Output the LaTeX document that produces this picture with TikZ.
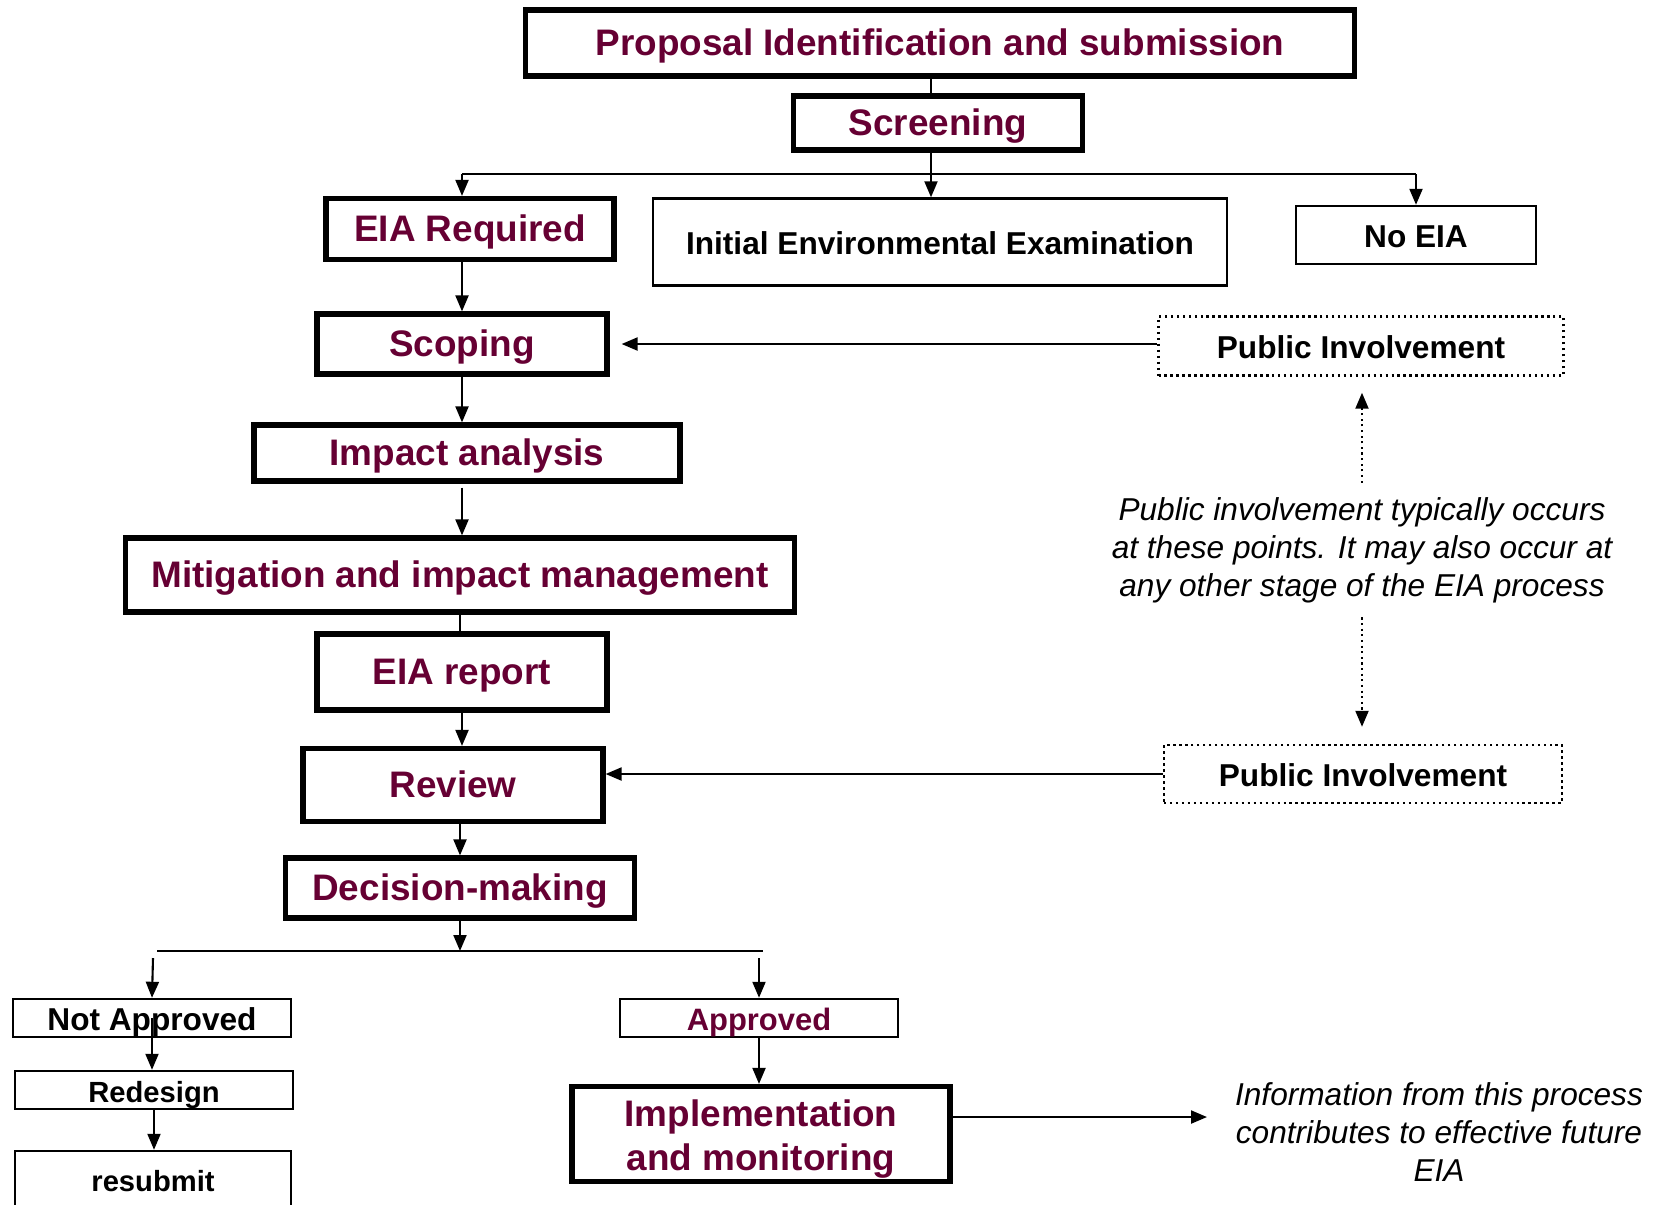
\documentclass[tikz,border=0pt]{standalone}
\usepackage{fontspec}
\setmainfont{Liberation Sans}
\usepackage{xcolor}
\usetikzlibrary{arrows.meta,positioning,calc}
\definecolor{eiared}{RGB}{102,0,51}

\begin{document}
\begin{tikzpicture}[x=0.1mm, y=-0.1mm,
    stage/.style={draw, line width=1.5pt, inner sep=0pt, align=center, text=eiared,
        text height=0.72em, text depth=0pt,
        font=\bfseries\fontsize{10.5}{12.6}\selectfont},
    thinbox/.style={draw, line width=0.7pt, inner sep=0pt, align=center,
        text height=0.72em, text depth=0pt,
        font=\bfseries\fontsize{9}{10.8}\selectfont},
    pubbox/.style={thinbox, densely dotted},
    note/.style={align=center, inner xsep=0pt, inner ysep=1.4mm,
        font=\itshape\fontsize{9}{10.8}\selectfont},
    link/.style={line width=0.6pt},
    arr/.style={link, -{Triangle[length=1.6mm,width=1.3mm]}},
    dotarr/.style={arr, densely dotted}]
    \useasboundingbox (0,0) rectangle (1660,1204);

    \node[stage, minimum width=82.9mm, minimum height=6.6mm] (prop) at (940,43) {Proposal Identification and submission};
    \node[stage, minimum width=28.9mm, minimum height=5.4mm] (scr) at (938,123) {Screening};
    \node[stage, minimum width=28.8mm, minimum height=6.1mm] (req) at (470,229) {EIA Required};
    \node[thinbox, minimum width=57.4mm, minimum height=8.7mm] (iee) at (940,242) {Initial Environmental Examination};
    \node[thinbox, minimum width=24mm, minimum height=5.8mm] (noeia) at (1416,235) {No EIA};
    \node[stage, minimum width=29mm, minimum height=6mm] (scop) at (462,344) {Scoping};
    \node[pubbox, minimum width=40.5mm, minimum height=5.9mm] (pub1) at (1361,346) {Public Involvement};
    \node[stage, minimum width=42.6mm, minimum height=5.6mm] (impact) at (467,453) {Impact analysis};
    \node[stage, minimum width=66.9mm, minimum height=7.4mm] (mitig) at (460,575) {Mitigation and impact management};
    \node[stage, minimum width=29mm, minimum height=7.6mm] (report) at (462,672) {EIA report};
    \node[stage, minimum width=30mm, minimum height=7.3mm] (review) at (453,785) {Review};
    \node[pubbox, minimum width=39.8mm, minimum height=5.8mm] (pub2) at (1363,774) {Public Involvement};
    \node[stage, minimum width=34.9mm, minimum height=6mm] (decis) at (460,888) {Decision-making};
    \node[thinbox, minimum width=27.8mm, minimum height=3.8mm] (notapp) at (152,1018) {Not Approved};
    \node[thinbox, minimum width=27.8mm, minimum height=3.8mm, font=\bfseries\fontsize{8.3}{10}\selectfont] (redes) at (154,1090) {Redesign};
    \node[thinbox, minimum width=27.6mm, minimum height=5.6mm, font=\bfseries\fontsize{8.3}{10}\selectfont] (resub) at (153,1179) {resubmit};
    \node[thinbox, text=eiared, minimum width=27.8mm, minimum height=3.8mm, font=\bfseries\fontsize{8.8}{10.5}\selectfont] (appr) at (759,1018) {Approved};
    \node[stage, text height=, text depth=, minimum width=37.8mm, minimum height=9.5mm] (impl) at (761,1134) {\rule{0pt}{1.0em}Implementation\\and monitoring};
    \node[note] (pinote) at (1362,550) {Public involvement typically occurs\\at these points. It may also occur at\\any other stage of the EIA process};
    \node[note] (infonote) at (1439,1132) {Information from this process\\contributes to effective future\\EIA};

    \coordinate (scrsplit) at (931,174);
    \coordinate (decl) at (157,951);
    \coordinate (decr) at (763,951);
    \coordinate (nadrop) at (153,958);
    \coordinate (apdrop) at (759,958);
    \coordinate (infotip) at (1207,1117);

    \draw[link] (scrsplit |- prop.south) -- (scrsplit |- scr.north);
    \draw[link] (scrsplit -| scop.north) -- (scrsplit -| noeia.north);
    \draw[arr] (scrsplit |- scr.south) -- (scrsplit |- iee.north);
    \draw[arr] (scrsplit -| scop.north) -- (scop.north |- req.north);
    \draw[arr] (scrsplit -| noeia.north) -- (noeia.north);
    \draw[arr] (scop.north |- req.south) -- (scop.north);
    \draw[arr, shorten >=1.2mm] (scop.east -| pub1.west) -- (scop.east);
    \draw[arr] (scop.south) -- (scop.south |- impact.north);
    \draw[arr, shorten <=0.4mm] (report.north |- impact.south) -- (report.north |- mitig.north);
    \draw[link] (mitig.south) -- (mitig.south |- report.north);
    \draw[arr] (report.south) -- (report.south |- review.north);
    \draw[arr] (pub2.west) -- (pub2.west -| review.east);
    \draw[arr] (decis.north |- review.south) -- (decis.north);
    \draw[link] (decl) -- (decr);
    \draw[arr] (decis.south) -- (decis.south |- decl);
    \draw[arr] (nadrop) -- (notapp.north);
    \draw[arr] (apdrop) -- (appr.north);
    \draw[arr] (notapp.center) -- (notapp.center |- redes.north);
    \draw[arr] (redes.south) -- (redes.south |- resub.north);
    \draw[arr] (appr.south) -- (appr.south |- impl.north);
    \draw[arr] (impl.east |- infotip) -- (infotip);
    \draw[dotarr, shorten >=1.6mm] (pinote.north) -- (pinote.north |- pub1.south);
    \draw[dotarr, shorten >=1.7mm] (pinote.south) -- (pinote.south |- pub2.north);
\end{tikzpicture}
\end{document}
